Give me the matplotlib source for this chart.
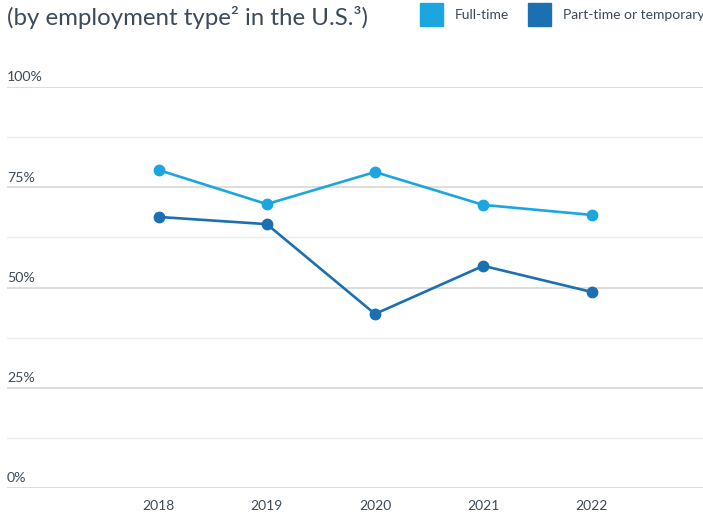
import matplotlib.pyplot as plt
from matplotlib.patches import Rectangle

years = ['2018', '2019', '2020', '2021', '2022']
full_time = [79.3, 70.8, 78.8, 70.6, 68.1]
part_time = [67.6, 65.8, 43.4, 55.4, 48.9]
y_ticks = [0, 25, 50, 75, 100]
y_labels = ['0%', '25%', '50%', '75%', '100%']

light = '#1ba6df'
dark = '#1a70b2'
txt = '#3e4a58'

plt.rcParams['font.family'] = ['Lato', 'DejaVu Sans']

fig = plt.figure(figsize=(7.03, 5.16), dpi=100)
ax = fig.add_axes([7 / 703, 28 / 516, 696 / 703, 401 / 516])

x = range(len(years))
ax.plot(x, full_time, '-o', color=light, lw=1.9, ms=7.5, zorder=3)
ax.plot(x, part_time, '-o', color=dark, lw=1.9, ms=7.5, zorder=3)

ax.set_xlim(-1.40, 5.03)
ax.set_ylim(0, 100)

# gridlines: major every 25, lighter ones in between
for v in y_ticks:
    ax.axhline(v, color='#d3d3d3', lw=1.1, zorder=1)
for v in [12.5, 37.5, 62.5, 87.5]:
    ax.axhline(v, color='#ededed', lw=1.0, zorder=1)
for v, lab in zip(y_ticks, y_labels):
    ax.text(0.0, v + 0.9, lab, transform=ax.get_yaxis_transform(),
            ha='left', va='bottom', fontsize=10.2, color=txt)

ax.set_xticks(list(x))
ax.set_xticklabels(years, fontsize=10, color=txt)
ax.tick_params(axis='x', length=0, pad=9)
ax.set_yticks([])
for s in ax.spines.values():
    s.set_visible(False)

fig.text(7 / 703, 1 - 17 / 516, '(by employment type\u00b2 in the U.S.\u00b3)',
         ha='left', va='center', fontsize=17.3, color=txt)

# legend
fig.patches.append(Rectangle((420 / 703, 1 - 26 / 516), 23 / 703, 23 / 516,
                             transform=fig.transFigure, color=light))
fig.text(455 / 703, 1 - 15 / 516, 'Full-time', ha='left', va='center',
         fontsize=10, color=txt)
fig.patches.append(Rectangle((528 / 703, 1 - 26 / 516), 23 / 703, 23 / 516,
                             transform=fig.transFigure, color=dark))
fig.text(563 / 703, 1 - 15 / 516, 'Part-time or temporary', ha='left', va='center',
         fontsize=10, color=txt)

fig.savefig('out.png', dpi=100)
